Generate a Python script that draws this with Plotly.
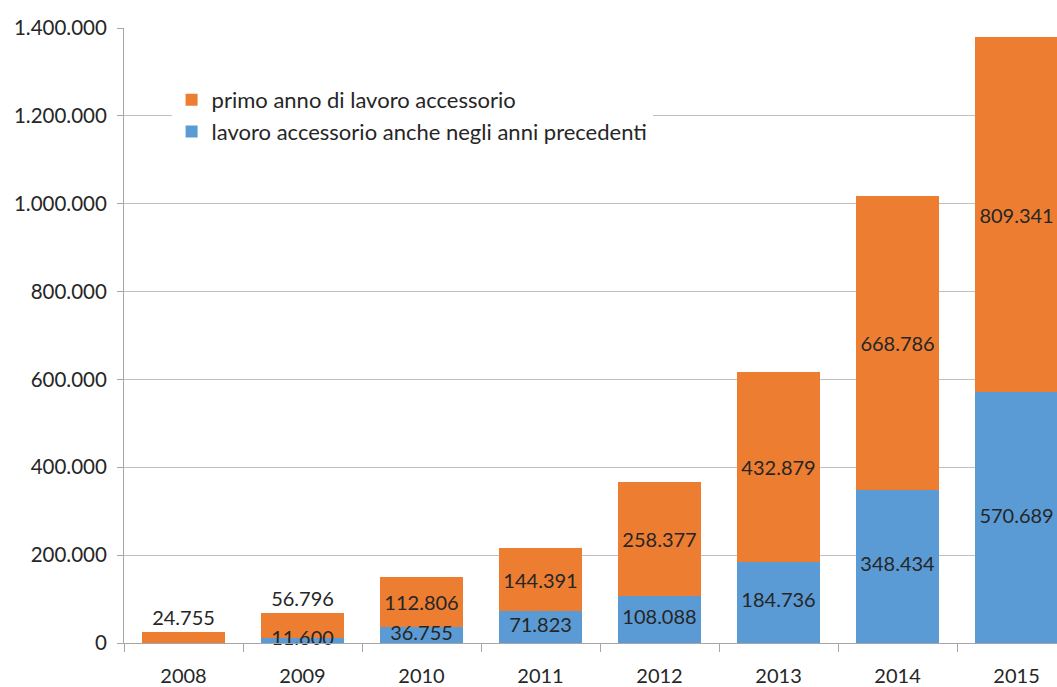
import plotly.graph_objects as go

years = ["2008", "2009", "2010", "2011", "2012", "2013", "2014", "2015"]
precedenti = [0, 11600, 36755, 71823, 108088, 184736, 348434, 570689]
primo_anno = [24755, 56796, 112806, 144391, 258377, 432879, 668786, 809341]

name_primo = "primo anno di lavoro accessorio"
name_prec = "lavoro accessorio anche negli anni precedenti"

FONT = "Lato"
TXT = "#262626"


def fmt(v):
    return f"{v:,}".replace(",", ".")


fig = go.Figure()

# bottom segment: workers already active in earlier years
fig.add_trace(go.Bar(
    x=years, y=precedenti, name=name_prec, legendrank=2,
    marker=dict(color="#5B9BD5", line=dict(width=0)),
    width=0.69,
))

# top segment: first year
fig.add_trace(go.Bar(
    x=years, y=primo_anno, name=name_primo, legendrank=1,
    marker=dict(color="#ED7D31", line=dict(width=0)),
    text=[fmt(v) for v in primo_anno],
    textposition=["outside", "outside"] + ["inside"] * 6,
    insidetextanchor="middle", constraintext="none", textangle=0, cliponaxis=False,
    textfont=dict(family=FONT, size=20, color=TXT),
    width=0.69,
))

# labels for the bottom segment drawn on top of everything (2009 overlaps the orange bar)
fig.add_trace(go.Scatter(
    x=years, y=[v / 2 for v in precedenti], mode="text",
    text=[fmt(v) if v else "" for v in precedenti],
    textposition="middle center", showlegend=False, hoverinfo="skip", cliponaxis=False,
    textfont=dict(family=FONT, size=20, color=TXT),
))

fig.update_layout(
    barmode="stack",
    width=1057, height=687,
    margin=dict(l=124, r=0, t=28, b=44),
    paper_bgcolor="white", plot_bgcolor="white",
    separators=",.",
    font=dict(family=FONT, size=20, color=TXT),
    legend=dict(
        x=0.051, y=0.917, xanchor="left", yanchor="top",
        bgcolor="white", traceorder="normal",
        font=dict(family=FONT, size=22, color=TXT),
    ),
)

fig.update_xaxes(
    type="category", range=[-0.5, 7.34], automargin=False,
    showline=True, linecolor="#A6A6A6", linewidth=1,
    ticks="outside", tickson="boundaries", ticklen=8, tickcolor="#A6A6A6",
    ticklabelstandoff=15, showgrid=False,
    tickfont=dict(family=FONT, size=20, color=TXT),
)
fig.update_yaxes(
    range=[0, 1400000], dtick=200000, tickformat=",", automargin=False,
    showline=True, linecolor="#A6A6A6", linewidth=1,
    ticks="outside", ticklen=6, tickcolor="#A6A6A6", ticklabelstandoff=6,
    showgrid=True, gridcolor="#BFBFBF", gridwidth=1, zeroline=False,
    tickfont=dict(family=FONT, size=20.5, color=TXT),
)

# drop the default page margin so the figure fills the window exactly
fig.write_html(
    "out.html",
    config={"displayModeBar": False},
    post_script="document.body.style.margin='0';document.body.style.overflow='hidden';",
)
